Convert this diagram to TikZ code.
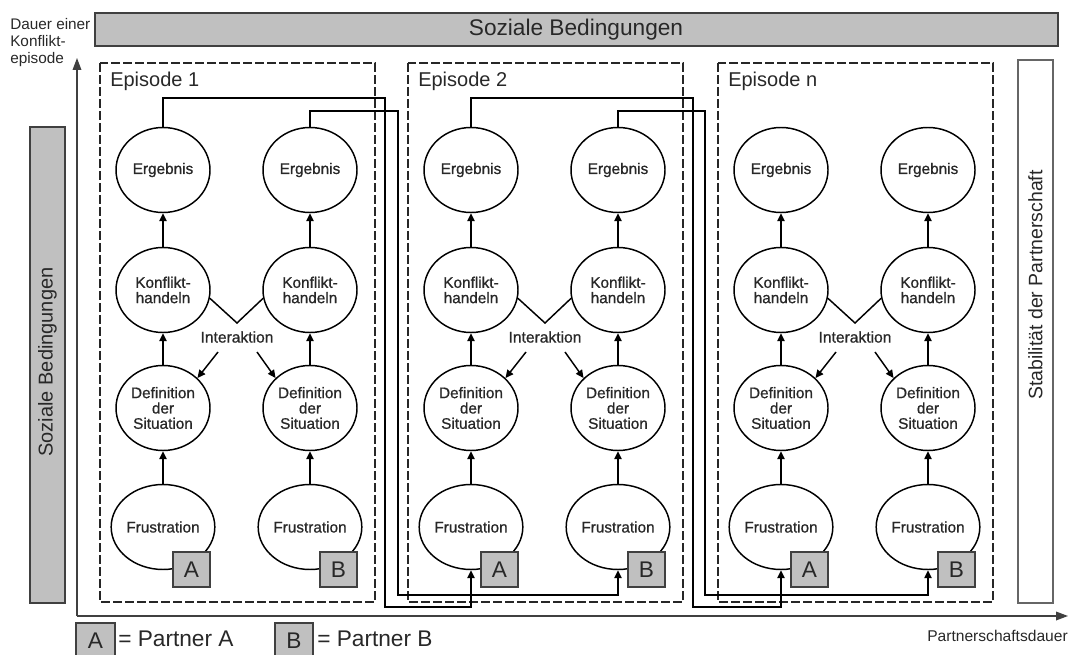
\documentclass[tikz,border=0pt]{standalone}
\usepackage{fontspec}
\setmainfont{Liberation Sans}
\newfontfamily\circfont{Liberation Sans}[FakeBold=0.8]
\usetikzlibrary{shapes.geometric,arrows.meta}
\definecolor{barfill}{RGB}{192,192,192}
\definecolor{txt}{RGB}{40,40,40}
\tikzset{
  circ/.style={ellipse, draw, line width=1.1pt, minimum width=70.5pt, minimum height=63.75pt,
    inner sep=0pt, align=center, text=txt, font=\circfont\fontsize{11.5}{11.5}\selectfont},
  conn/.style={line width=1.1pt},
  arr/.style={conn, -{Triangle[length=6pt,width=5.5pt]}},
  axis/.style={line width=1pt, draw=black!75, -{Triangle[length=9pt,width=6.5pt]}},
  epbox/.style={draw=black!85, line width=0.9pt, dash pattern=on 7pt off 2pt},
  graybar/.style={draw=black!75, fill=barfill, line width=1.2pt},
  whitebar/.style={draw=black!60, fill=white, line width=1.2pt},
  partner/.style={draw=black!75, fill=barfill, line width=1.2pt, minimum width=27.75pt,
    minimum height=26.25pt, inner sep=0pt, text=txt, font=\fontsize{17}{17}\selectfont},
  smalltext/.style={text=txt, font=\fontsize{11.5}{11.5}\selectfont, inner sep=0pt},
  bigtext/.style={text=txt, inner sep=0pt}
}
\begin{document}
\begin{tikzpicture}[x=0.75pt, y=-0.75pt]
\useasboundingbox (0,0) rectangle (1069,655);

% top bar
\draw[graybar] (95,13) rectangle (1058,46);
\node[bigtext, font=\fontsize{17}{17}\selectfont] (topbar) at (576,30) {Soziale Bedingungen};
% left bar
\draw[graybar] (30,127) rectangle (65,603);
\node[bigtext, rotate=90, font=\fontsize{15}{15}\selectfont] (leftbar) at (47.5,362) {Soziale Bedingungen};
% right bar
\draw[whitebar] (1018,60) rectangle (1053,603);
\node[bigtext, rotate=90, font=\fontsize{14.6}{14.6}\selectfont] (rightbar) at (1035.5,285) {Stabilität der Partnerschaft};

% axes
\coordinate (origin) at (77,616);
\coordinate (ytop) at (77,58);
\coordinate (xend) at (1068,616);
\draw[axis] (origin) -- (ytop);
\draw[axis] (origin) -- (xend);
\node[smalltext, align=left, anchor=north west, font=\fontsize{11.5}{12.75}\selectfont] (ylabel) at (10,18) {Dauer einer\\Konflikt-\\episode};
\node[smalltext, anchor=east, font=\fontsize{11.7}{11.7}\selectfont] (xlabel) at (1068,636) {Partnerschaftsdauer};

% episodes
\foreach \n/\L/\t in {1/100/Episode 1, 2/408/Episode 2, 3/718/Episode n} {
  \draw[epbox] ({\L},63) rectangle ({\L+275},602);
  \node[bigtext, anchor=west, font=\fontsize{15}{15}\selectfont] (ep\n) at ({\L+10},81) {\t};
  \foreach \c/\dx in {a/63, b/210} {
    \node[circ] (e\n\c Erg) at ({\L+\dx},170) {Ergebnis};
    \node[circ] (e\n\c Kon) at ({\L+\dx},290) {Konflikt-\\handeln};
    \node[circ] (e\n\c Def) at ({\L+\dx},408) {Definition\\der\\Situation};
    \node[circ] (e\n\c Fru) at ({\L+\dx},527) {Frustration};
    \draw[arr] (e\n\c Kon) -- (e\n\c Erg);
    \draw[arr] (e\n\c Def) -- (e\n\c Kon);
    \draw[arr] (e\n\c Fru) -- (e\n\c Def);
  }
  % interaction
  \coordinate (v\n) at ({\L+137},323);
  \draw[conn] (e\n aKon.-10) -- (v\n) -- (e\n bKon.190);
  \node[smalltext, font=\circfont\fontsize{11.7}{11.7}\selectfont] (int\n) at ({\L+137},337) {Interaktion};
  \coordinate (il\n) at ({\L+118},352);
  \coordinate (ir\n) at ({\L+157},352);
  \draw[arr] (il\n) -- (e\n aDef.41);
  \draw[arr] (ir\n) -- (e\n bDef.139);
}

% connectors between episodes
\draw[arr] (e1aErg.north) |- (385,98) -- (385,607) -| (e2aFru.south);
\draw[arr] (e1bErg.north) |- (398,111) -- (398,595) -| (e2bFru.south);
\draw[arr] (e2aErg.north) |- (693,98) -- (693,607) -| (e3aFru.south);
\draw[arr] (e2bErg.north) |- (705,111) -- (705,595) -| (e3bFru.south);
% partner boxes on top of the frustration circles
\foreach \n/\L in {1/100, 2/408, 3/718} {
  \node[partner] (e\n pA) at ({\L+63+28.5},{527+42.5}) {A};
  \node[partner] (e\n pB) at ({\L+210+28.5},{527+42.5}) {B};
}

% legend
\node[partner, minimum width=29.25pt] (legA) at (95.5,640.5) {A};
\node[bigtext, anchor=west, font=\fontsize{17}{17}\selectfont] (legAt) at (118,639) {= Partner A};
\node[partner, minimum width=28.5pt] (legB) at (294,640.5) {B};
\node[bigtext, anchor=west, font=\fontsize{17}{17}\selectfont] (legBt) at (317,639) {= Partner B};
\end{tikzpicture}
\end{document}
